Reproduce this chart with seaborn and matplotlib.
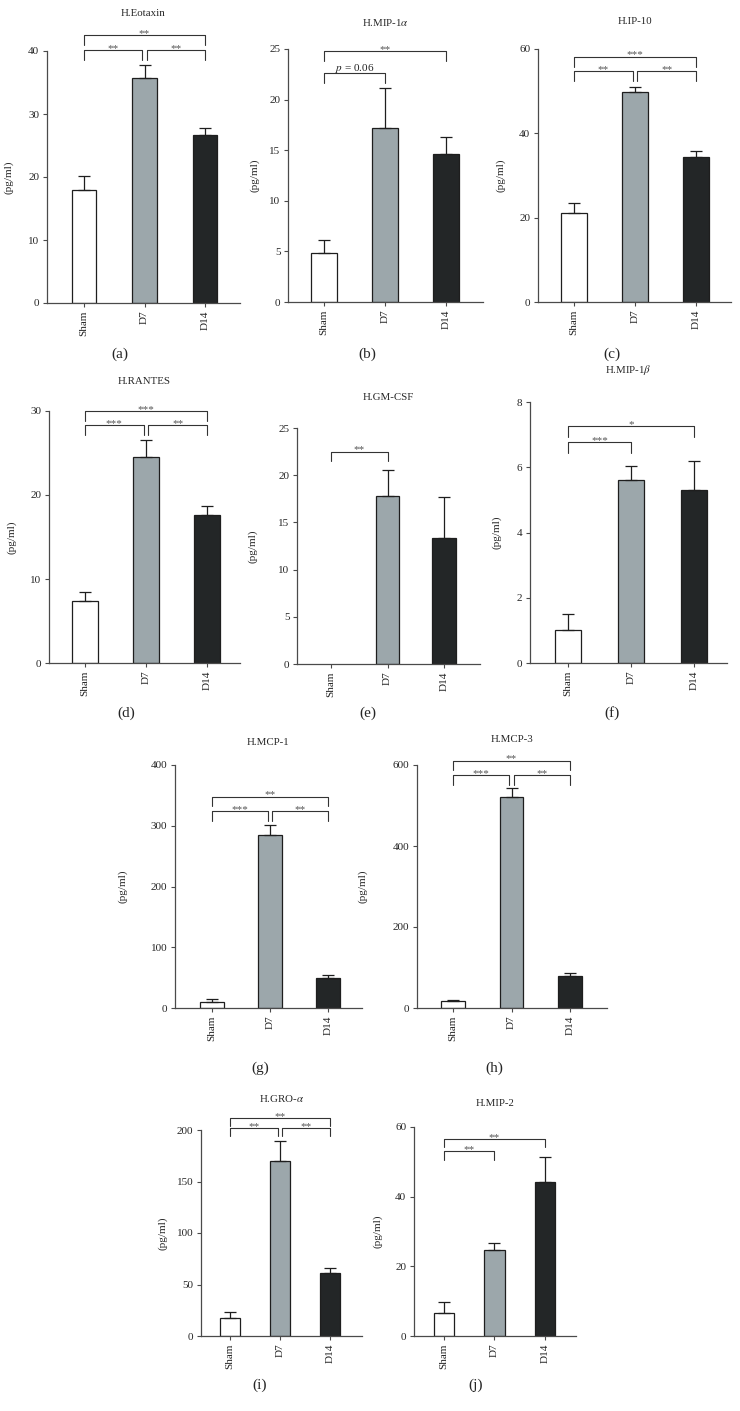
import numpy as np
import pandas as pd
import matplotlib
matplotlib.use('Agg')
import matplotlib.pyplot as plt
import seaborn as sns

sns.set_theme(style='ticks')
plt.rcParams['font.family'] = ['Liberation Serif', 'DejaVu Serif']
plt.rcParams['mathtext.fontset'] = 'stix'

# groups and colours
groups = ['Sham', 'D7', 'D14']
palette = ['#ffffff', '#9aa8ae', '#222628']

# mean values and upper error (pg/ml)
eotaxin_mean = [18.0, 35.7, 26.7]
eotaxin_err = [2.1, 2.0, 1.0]
mip1a_mean = [4.8, 17.2, 14.6]
mip1a_err = [1.3, 3.9, 1.7]
ip10_mean = [21.2, 49.9, 34.3]
ip10_err = [2.2, 1.2, 1.4]
rantes_mean = [7.4, 24.5, 17.6]
rantes_err = [1.1, 2.0, 1.1]
gmcsf_mean = [0.0, 17.8, 13.4]
gmcsf_err = [0.0, 2.7, 4.3]
mip1b_mean = [1.0, 5.6, 5.3]
mip1b_err = [0.5, 0.43, 0.9]
mcp1_mean = [9.3, 284.0, 49.3]
mcp1_err = [5.5, 17.5, 5.5]
mcp3_mean = [16.4, 522.0, 78.0]
mcp3_err = [2.5, 20.0, 8.0]
groa_mean = [17.9, 169.9, 60.7]
groa_err = [5.5, 19.4, 4.9]
mip2_mean = [6.7, 24.7, 44.2]
mip2_err = [3.0, 2.1, 7.2]

# significance brackets: (from, to, height, text)
eotaxin_sig = [(0, 1, 40.1, '**'), (1, 2, 40.1, '**'), (0, 2, 42.5, '**')]
mip1a_sig = [(0, 1, 22.6, '$p$ = 0.06'), (0, 2, 24.8, '**')]
ip10_sig = [(0, 1, 54.7, '**'), (1, 2, 54.7, '**'), (0, 2, 58.2, '***')]
rantes_sig = [(0, 1, 28.3, '***'), (1, 2, 28.3, '**'), (0, 2, 30.0, '***')]
gmcsf_sig = [(0, 1, 22.5, '**')]
mip1b_sig = [(0, 1, 6.76, '***'), (0, 2, 7.26, '*')]
mcp1_sig = [(0, 1, 324, '***'), (1, 2, 324, '**'), (0, 2, 348, '**')]
mcp3_sig = [(0, 1, 575, '***'), (1, 2, 575, '**'), (0, 2, 611, '**')]
groa_sig = [(0, 1, 202, '**'), (1, 2, 202, '**'), (0, 2, 211.5, '**')]
mip2_sig = [(0, 1, 53.0, '**'), (0, 2, 56.6, '**')]

panels = [
    ('H.Eotaxin', eotaxin_mean, eotaxin_err, eotaxin_sig, 40, 10, '(a)'),
    ('H.MIP-1$\\alpha$', mip1a_mean, mip1a_err, mip1a_sig, 25, 5, '(b)'),
    ('H.IP-10', ip10_mean, ip10_err, ip10_sig, 60, 20, '(c)'),
    ('H.RANTES', rantes_mean, rantes_err, rantes_sig, 30, 10, '(d)'),
    ('H.GM-CSF', gmcsf_mean, gmcsf_err, gmcsf_sig, 25, 5, '(e)'),
    ('H.MIP-1$\\beta$', mip1b_mean, mip1b_err, mip1b_sig, 8, 2, '(f)'),
    ('H.MCP-1', mcp1_mean, mcp1_err, mcp1_sig, 400, 100, '(g)'),
    ('H.MCP-3', mcp3_mean, mcp3_err, mcp3_sig, 600, 200, '(h)'),
    ('H.GRO-$\\alpha$', groa_mean, groa_err, groa_sig, 200, 50, '(i)'),
    ('H.MIP-2', mip2_mean, mip2_err, mip2_sig, 60, 20, '(j)'),
]

# layout in pixels: left, right, first bar, last bar, top, bottom, title y, ylabel x, panel label (x, y)
layout = [
    (47, 240, 84, 205, 51, 303, 13, 14, (120, 354)),
    (288, 483, 324, 446, 49, 302, 22, 259, (367, 354)),
    (538, 731, 574, 696, 49, 302, 21, 505, (612, 354)),
    (49, 240, 85, 207, 411, 663, 381, 16, (126, 713)),
    (297, 480, 331, 444, 428, 664, 397, 258, (368, 713)),
    (530, 727, 568, 694, 402, 663, 370, 502, (612, 713)),
    (175, 362, 212, 328, 765, 1008, 742, 128, (260, 1068)),
    (417, 607, 453, 570, 765, 1008, 740, 368, (494, 1068)),
    (201, 362, 230, 330, 1130, 1336, 1098, 168, (260, 1385)),
    (414, 576, 444, 545, 1127, 1336, 1103, 383, (476, 1385)),
]

W, H = 740, 1411
fig = plt.figure(figsize=(W / 100, H / 100), dpi=100)
axis_col = '#4a4a4a'

for (title, mean, err, sig, ymax, ystep, tag), lay in zip(panels, layout):
    l, r, x0, x2, t, b, ty, ylx, (px, py) = lay
    ax = fig.add_axes([l / W, 1 - b / H, (r - l) / W, (b - t) / H])
    df = pd.DataFrame({'group': groups, 'value': mean})
    sns.barplot(data=df, x='group', y='value', hue='group', palette=palette,
                width=0.41, edgecolor='#1e1e1e', linewidth=0.9, errorbar=None,
                legend=False, ax=ax)
    e = np.array(err)
    m = np.array(mean)
    keep = e > 0
    ax.errorbar(np.arange(3)[keep], m[keep], yerr=[np.zeros(keep.sum()), e[keep]],
                fmt='none', ecolor='#1e1e1e', elinewidth=0.9, capsize=4.3,
                capthick=0.9, zorder=1)
    # hide the outline of empty bars
    for patch in ax.patches:
        if patch.get_height() == 0:
            patch.set_linewidth(0)

    unit = (x2 - x0) / 2
    ax.set_xlim((l - x0) / unit, (r - x0) / unit)
    ax.set_ylim(0, ymax)
    ax.set_yticks(np.arange(0, ymax + ystep / 2, ystep))
    ax.set_xticks(range(3))
    ax.set_xticklabels(groups, rotation=90)
    ax.set_xlabel('')
    ax.set_ylabel('(pg/ml)', fontsize=8)
    ax.yaxis.set_label_coords((ylx - l) / (r - l), 0.5)
    for s in ['top', 'right']:
        ax.spines[s].set_visible(False)
    for s in ['left', 'bottom']:
        ax.spines[s].set_color(axis_col)
        ax.spines[s].set_linewidth(0.9)
    ax.tick_params(axis='both', length=3, width=0.8, color=axis_col,
                   labelsize=8, pad=2.5)

    # significance brackets
    leg = 0.04 * ymax
    for i, j, h, txt in sig:
        xa = i + (0.04 if i == 1 else 0)
        xb = j - (0.04 if (j == 1 and any(s[0] == 1 for s in sig)) else 0)
        ax.plot([xa, xa, xb, xb], [h - leg, h, h, h - leg], color='#333333',
                lw=0.8, clip_on=False)
        star = '*' in txt
        ax.annotate(txt, ((xa + xb) / 2, h), xytext=(0, -0.6 if star else 2.0),
                    textcoords='offset points', ha='center', va='baseline',
                    fontsize=8 if star else 8, annotation_clip=False,
                    color='#555555' if star else '#222222')

    fig.text((l + r) / 2 / W, 1 - ty / H, title, ha='center', va='center', fontsize=7.8)
    fig.text(px / W, 1 - py / H, tag, ha='center', va='center', fontsize=11)

fig.savefig('out.png', dpi=100)
